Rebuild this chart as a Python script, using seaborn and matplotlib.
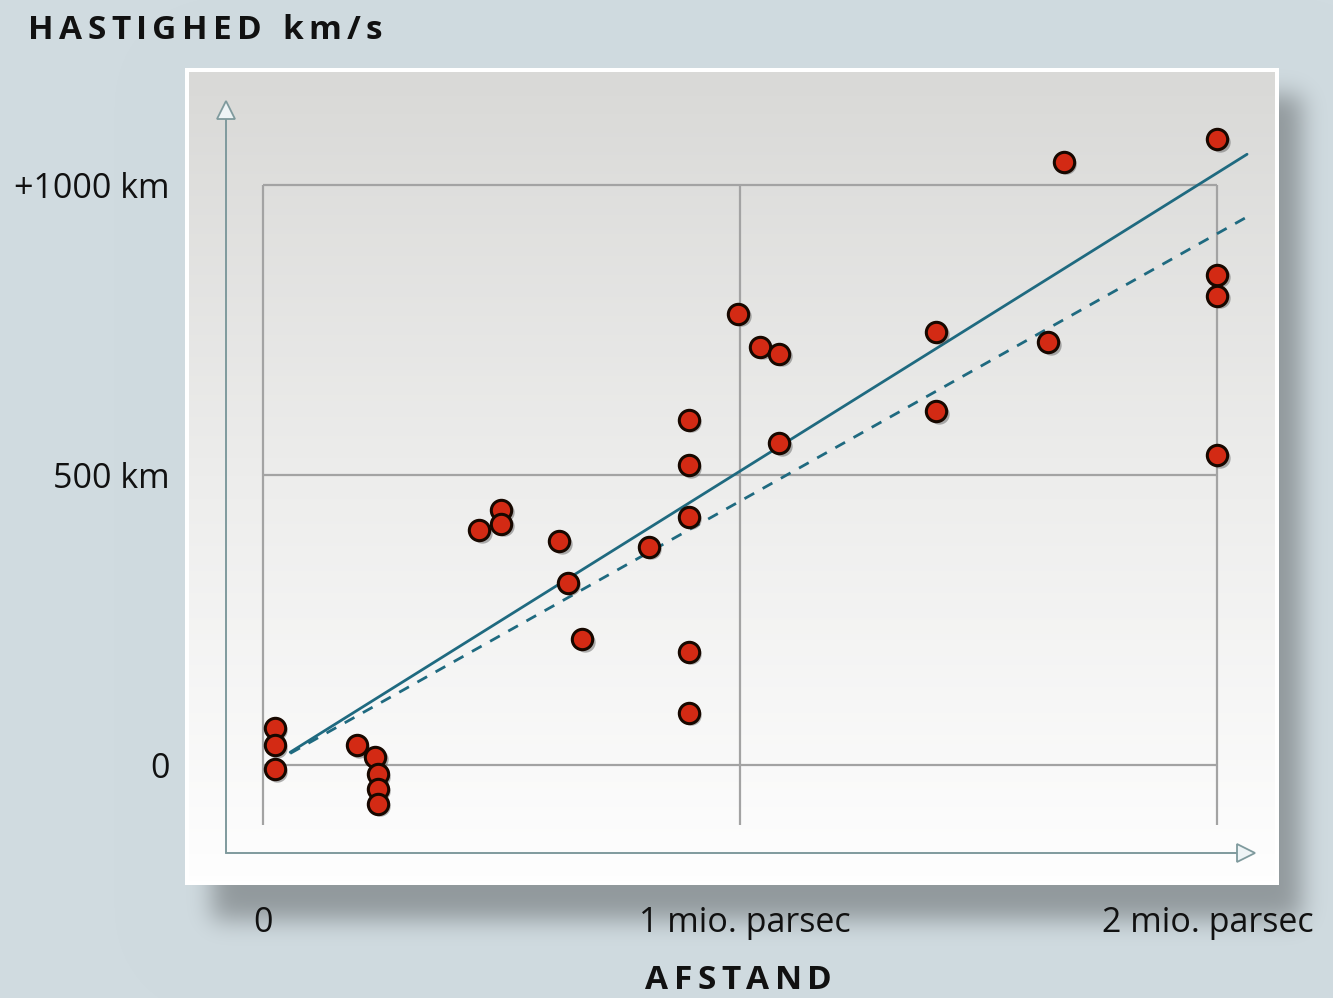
import math
import numpy as np
import matplotlib
matplotlib.use("Agg")
import matplotlib.pyplot as plt
import matplotlib.transforms as mtransforms
from matplotlib.colors import LinearSegmentedColormap
import pandas as pd
import seaborn as sns

# Galaxy distances (million parsec) and radial velocities (km/s)
distance = [0.025, 0.025, 0.025, 0.197, 0.235, 0.241, 0.241, 0.241,
            0.453, 0.499, 0.499, 0.621, 0.639, 0.669, 0.809,
            0.893, 0.893, 0.893, 0.893, 0.893,
            0.996, 1.042, 1.082, 1.082, 1.411, 1.411, 1.646, 1.679,
            2.0, 2.0, 2.0, 2.0]
velocity = [64, 34, -7, 34, 14, -16, -41, -67,
            405, 440, 416, 386, 314, 217, 376,
            595, 517, 428, 195, 90,
            778, 721, 709, 555, 747, 610, 729, 1040,
            1079, 845, 809, 534]

# Fitted velocity-distance relations
fit_x = [0.057, 2.063]
fit_solid = [22, 1053]
fit_dashed = [20, 945]

x_ticks = [0, 1, 2]
x_labels = ["0", "1 mio. parsec", "2 mio. parsec"]
y_ticks = [0, 500, 1000]
y_labels = ["0", "500 km", "+1000 km"]

W, H = 1333, 998
BG = np.array([0xd0, 0xdb, 0xe0]) / 255.0

sns.set_theme(style="white")
plt.rcParams["font.family"] = ["Open Sans", "DejaVu Sans"]

fig = plt.figure(figsize=(W / 100, H / 100), dpi=100)
fig.patch.set_facecolor(BG)

# Backdrop with a soft drop shadow under the panel
bg_ax = fig.add_axes([0, 0, 1, 1])
bg_ax.set_axis_off()
erf = np.vectorize(math.erf)
def soft_edge(coords, a, b, s):
    return 0.5 * (erf((coords - a) / (s * math.sqrt(2))) - erf((coords - b) / (s * math.sqrt(2))))
xs = np.arange(W) + 0.5
ys = np.arange(H) + 0.5
mask = np.outer(soft_edge(ys, 95, 920, 12), soft_edge(xs, 212, 1302, 12))
img = BG[None, None, :] * (1 - 0.3 * mask[:, :, None])
bg_ax.imshow(img, extent=[0, W, H, 0], aspect="auto", interpolation="bilinear")
bg_ax.set_xlim(0, W)
bg_ax.set_ylim(H, 0)

# Main plotting panel
left, right, top, bottom = 185, 1279, 68, 885
ax = fig.add_axes([left / W, 1 - bottom / H, (right - left) / W, (bottom - top) / H])
ax.set_facecolor("white")
for sp in ax.spines.values():
    sp.set_visible(False)

px_per_x = 477.0
px_per_y = 0.58
x0_px, y0_px = 263, 765
ax.set_xlim((left - x0_px) / px_per_x, (right - x0_px) / px_per_x)
ax.set_ylim((y0_px - bottom) / px_per_y, (y0_px - top) / px_per_y)

grad_cmap = LinearSegmentedColormap.from_list("panel", ["#d9d9d7", "#ededec", "#fefefe"])
grad = np.linspace(0, 1, 256).reshape(-1, 1)
ax.imshow(grad, cmap=grad_cmap, aspect="auto", extent=(0.004, 0.996, 0.005, 0.995),
          transform=ax.transAxes, zorder=0, interpolation="bilinear")

# Grid frame
grid_c = "#a3a3a3"
grid_lw = 1.6
grid_bottom = -103
for gx in x_ticks:
    ax.plot([gx, gx], [grid_bottom, 1000], color=grid_c, lw=grid_lw, zorder=1, solid_capstyle="butt")
for gy in y_ticks:
    ax.plot([0, 2], [gy, gy], color=grid_c, lw=grid_lw, zorder=1, solid_capstyle="butt")

# Axis arrows
axis_c = "#7f9a9d"
ax_x = (226 - x0_px) / px_per_x
ax_y = (y0_px - 853) / px_per_y
tip_y = (y0_px - 110) / px_per_y
tip_x = (1246 - x0_px) / px_per_x
ax.plot([ax_x, ax_x], [ax_y, tip_y], color=axis_c, lw=1.4, zorder=1)
ax.plot([ax_x, tip_x], [ax_y, ax_y], color=axis_c, lw=1.4, zorder=1)
ax.plot([ax_x], [tip_y], marker="^", ms=13, mfc="#eef4f6", mec=axis_c, mew=1.3, zorder=2)
ax.plot([tip_x], [ax_y], marker=">", ms=13, mfc="#eef4f6", mec=axis_c, mew=1.3, zorder=2)

# Regression lines
line_c = "#1f6a80"
fits = pd.DataFrame({"x": fit_x + fit_x,
                     "y": fit_solid + fit_dashed,
                     "fit": ["solid"] * 2 + ["dashed"] * 2})
sns.lineplot(data=fits[fits.fit == "solid"], x="x", y="y", color=line_c, lw=2.0, ax=ax, zorder=3)
sns.lineplot(data=fits[fits.fit == "dashed"], x="x", y="y", color=line_c, lw=2.0, ax=ax, zorder=3,
             dashes=False, linestyle=(0, (4, 3.5)))

# Galaxies with a small drop shadow
pts = pd.DataFrame({"distance": distance, "velocity": velocity})
shadow_tr = mtransforms.offset_copy(ax.transData, fig=fig, x=2.5, y=-2.5, units="dots")
ax.scatter(pts.distance, pts.velocity, s=215, color="#555555", alpha=0.45, lw=0,
           transform=shadow_tr, zorder=4)
sns.scatterplot(data=pts, x="distance", y="velocity", s=215, color="#d32a14",
                edgecolor="#170800", linewidth=2.2, ax=ax, zorder=5, legend=False)

# Tick labels outside the panel
ax.set_xticks(x_ticks)
ax.set_xticklabels(x_labels)
ax.set_yticks(y_ticks)
ax.set_yticklabels(y_labels)
ax.tick_params(axis="both", length=0, labelsize=24.5, colors="#111111")
ax.tick_params(axis="x", pad=15)
ax.tick_params(axis="y", pad=11)
# nudge the long distance labels so they sit inside the figure comfortably
for lbl, dx in zip(ax.get_xticklabels(), [0, 5, -9]):
    lbl.set_transform(lbl.get_transform() +
                      mtransforms.ScaledTranslation(dx / 100, 0, fig.dpi_scale_trans))
ax.set_xlabel("")
ax.set_ylabel("")
ax.grid(False)

# Letter-spaced headings
def tracked_text(text, x_start, x_end, baseline, size):
    renderer = fig.canvas.get_renderer()
    widths = []
    for ch in text:
        probe = fig.text(0, 0, "n" if ch == " " else ch, fontsize=size, fontweight="bold")
        w = probe.get_window_extent(renderer).width
        probe.remove()
        widths.append(w * 0.45 if ch == " " else w)
    gap = (x_end - x_start - sum(widths)) / (len(text) - 1)
    x = x_start
    for ch, w in zip(text, widths):
        if ch != " ":
            fig.text(x / W, 1 - baseline / H, ch, fontsize=size, fontweight="bold",
                     color="#111111", ha="left", va="baseline")
        x += w + gap

tracked_text("HASTIGHED km/s", 28, 382, 39, 24)
tracked_text("AFSTAND", 645, 832, 989, 24)

fig.savefig("out.png", dpi=100, facecolor=fig.get_facecolor())
